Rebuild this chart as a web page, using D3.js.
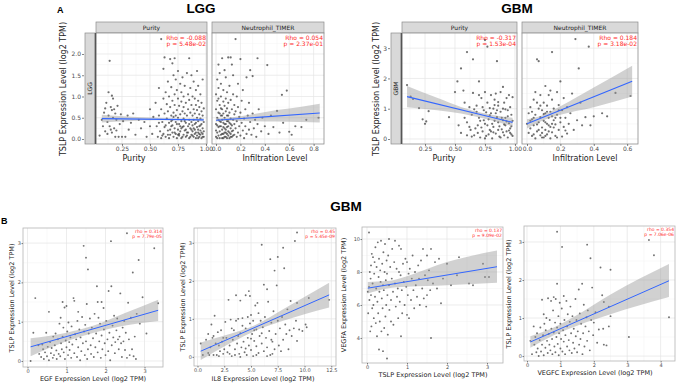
<!DOCTYPE html>
<html><head><meta charset="utf-8">
<script src="https://cdn.jsdelivr.net/npm/d3@7"></script>
<style>
body{margin:0;background:#fff;}
text{font-family:"DejaVu Sans",sans-serif;}
.ttl{font-family:"Liberation Sans",Arial,sans-serif;font-weight:700;}
</style></head><body><div id="chart"></div>
<script>
// ---- data ----
const lggPurity = [[0.05,0.08],[0.07,0.45],[0.08,0.3],[0.09,0.62],[0.1,0.72],[0.1,0.18],[0.11,0.85],[0.12,0.4],[0.12,0.12],[0.13,1.1],[0.13,0.55],[0.14,1.84],[0.14,0.3],[0.15,0.75],[0.15,0.22],[0.16,1.02],[0.16,0.68],[0.16,0.15],[0.17,0.95],[0.17,0.5],[0.18,0.7],[0.18,0.25],[0.19,0.6],[0.19,0.05],[0.2,0.45],[0.2,0.2],[0.21,0.78],[0.22,0.05],[0.23,0.35],[0.24,0.58],[0.25,0.05],[0.26,0.42],[0.28,0.05],[0.3,0.55],[0.31,0.22],[0.33,0.38],[0.35,0.6],[0.37,0.1],[0.4,0.45],[0.42,0.25],[0.45,0.4],[0.47,0.05],[0.5,0.3],[0.5,0.7],[0.52,0.12],[0.53,0.52],
[0.55,0.85],[0.56,0.3],[0.57,0.05],[0.58,1.2],[0.58,0.55],[0.59,0.18],[0.6,2.35],[0.6,0.7],[0.6,0.02],[0.61,0.4],[0.62,1.65],[0.62,0.95],[0.62,0.12],[0.63,1.92],[0.63,0.6],[0.63,0.28],[0.64,1.1],[0.64,0.05],[0.65,0.48],[0.65,0.82],[0.66,1.35],[0.66,0.2],[0.66,0.65],[0.67,0.02],[0.67,1.0],[0.67,0.38],[0.68,1.88],[0.68,0.75],[0.68,0.1],[0.69,0.55],[0.69,1.22],[0.69,0.3],[0.7,1.78],[0.7,0.9],[0.7,0.15],[0.7,0.45],[0.71,1.5],[0.71,0.62],[0.71,0.05],[0.72,1.9],[0.72,0.25],[0.72,1.05],[0.72,0.8],[0.73,0.4],[0.73,1.4],[0.73,0.12],[0.74,0.68],[0.74,0.02],[0.74,1.15],[0.75,0.5],[0.75,0.95],[0.75,0.22],[0.75,1.6],[0.76,0.35],[0.76,0.78],[0.76,0.08],[0.77,1.3],[0.77,0.58],[0.77,0.18],[0.78,0.88],[0.78,0.42],[0.78,0.02],[0.78,1.1],[0.79,0.65],[0.79,0.28],[0.79,1.45],[0.8,0.1],[0.8,0.75],[0.8,0.48],[0.8,1.0],[0.81,0.2],[0.81,0.6],[0.81,1.25],[0.82,0.05],[0.82,0.38],[0.82,0.85],[0.83,0.15],[0.83,0.55],[0.83,1.55],[0.84,0.3],[0.84,0.7],[0.84,1.05],[0.85,1.9],[0.85,0.02],[0.85,0.45],[0.85,0.92],[0.86,0.25],[0.86,0.62],[0.86,1.2],[0.87,0.1],[0.87,0.4],[0.87,0.8],[0.87,1.5],[0.88,0.18],[0.88,0.55],[0.88,1.0],[0.88,0.32],[0.89,0.05],[0.89,0.7],[0.89,1.35],[0.89,0.45],[0.9,0.22],[0.9,0.6],[0.9,0.95],[0.9,0.12],[0.91,0.38],[0.91,0.8],[0.91,1.15],[0.91,0.02],[0.92,1.6],[0.92,0.5],[0.92,0.28],[0.92,0.68],[0.93,0.15],[0.93,0.9],[0.93,0.42],[0.93,1.25],[0.94,0.05],[0.94,0.58],[0.94,0.3],[0.94,0.75],[0.95,0.2],[0.95,1.05],[0.95,0.48],[0.95,0.1],[0.96,0.35],[0.96,0.65],[0.96,0.85],[0.96,0.02],[0.97,0.25],[0.97,0.55],[0.97,1.4],[0.97,0.12],[0.98,0.4],[0.98,0.72],[0.98,0.18],[0.98,0.05],
[0.58,0.38],[0.61,0.08],[0.64,0.32],[0.66,0.1],[0.68,0.22],[0.7,0.32],[0.72,0.15],[0.73,0.55],[0.74,0.35],[0.76,0.12],[0.77,0.3],[0.79,0.05],[0.8,0.3],[0.82,0.22],[0.83,0.08],[0.84,0.15],[0.86,0.05],[0.87,0.22],[0.88,0.08],[0.9,0.35],[0.91,0.15],[0.92,0.08],[0.93,0.22],[0.94,0.12],[0.95,0.32],[0.96,0.15],[0.97,0.05],[0.85,0.35],[0.81,0.42],[0.78,0.25],[0.75,0.1],[0.89,0.25],[0.93,0.02],[0.71,0.52],[0.69,0.42]];
const lggNeutro = [[0.0,0.05],[0.0,0.35],[0.0,0.7],[0.0,1.05],[0.01,0.15],[0.01,0.5],[0.01,0.9],[0.01,1.4],[0.01,0.02],[0.02,0.28],[0.02,0.62],[0.02,1.2],[0.02,0.08],[0.02,1.75],[0.03,0.42],[0.03,0.8],[0.03,0.18],[0.03,1.55],[0.03,0.02],[0.04,0.55],[0.04,1.0],[0.04,0.3],[0.04,0.1],[0.04,1.3],[0.05,1.9],[0.05,0.7],[0.05,0.22],[0.05,0.45],[0.05,0.02],[0.06,0.88],[0.06,0.12],[0.06,0.38],[0.06,1.15],[0.06,0.6],[0.07,0.05],[0.07,0.5],[0.07,0.25],[0.07,1.62],[0.07,0.78],[0.08,0.95],[0.08,0.35],[0.08,0.15],[0.08,1.45],[0.08,0.65],[0.09,0.02],[0.09,0.42],[0.09,1.1],[0.09,0.28],[0.09,0.72],[0.1,1.92],[0.1,0.55],[0.1,0.18],[0.1,0.85],[0.1,0.08],[0.11,1.25],[0.11,0.38],[0.11,0.62],[0.11,0.02],[0.12,1.92],[0.12,0.25],[0.12,0.48],[0.12,0.92],[0.12,0.12],[0.13,1.75],[0.13,0.7],[0.13,0.32],[0.13,0.05],[0.14,1.05],[0.14,0.45],[0.14,0.2],[0.14,1.5],[0.15,0.58],[0.15,0.1],[0.15,0.8],[0.15,0.35],
[0.16,2.35],[0.16,0.25],[0.16,0.65],[0.17,1.0],[0.17,0.05],[0.17,0.42],[0.18,0.15],[0.18,0.75],[0.18,1.3],[0.19,0.52],[0.19,0.3],[0.2,1.88],[0.2,0.08],[0.2,0.62],[0.21,0.38],[0.21,0.9],[0.22,0.2],[0.22,1.15],[0.23,0.48],[0.23,0.02],[0.24,0.7],[0.24,0.3],[0.25,1.45],[0.25,0.12],[0.26,0.55],[0.27,0.22],[0.27,0.85],[0.28,1.62],[0.28,0.4],[0.29,0.1],[0.3,1.48],[0.3,0.6],[0.31,0.25],[0.32,0.45],[0.33,0.05],[0.34,1.9],[0.34,0.35],[0.35,0.7],
[0.37,0.18],[0.38,0.5],[0.4,0.3],[0.42,1.74],[0.43,0.12],[0.45,0.55],[0.47,0.28],[0.5,0.66],[0.52,0.15],[0.54,1.04],[0.55,0.38],[0.58,1.14],[0.6,0.17],[0.62,0.1],[0.65,0.3],[0.7,0.28],[0.74,0.45],[0.84,0.5],
[0.0,0.2],[0.01,0.32],[0.02,0.45],[0.03,0.6],[0.04,0.72],[0.05,0.12],[0.06,0.28],[0.07,0.15],[0.08,0.05],[0.09,0.55],[0.1,0.3],[0.11,0.15],[0.12,0.35],[0.13,0.18],[0.14,0.08],[0.02,0.95],[0.04,0.4],[0.06,0.02],[0.08,0.22],[0.1,0.42],[0.12,0.05],[0.03,0.3],[0.05,0.55],[0.07,0.35],[0.09,0.12]];
const gbmPurity = [[0.1,1.78],[0.13,1.4],[0.15,1.32],[0.2,1.02],[0.23,0.65],[0.25,0.5],[0.26,0.58],[0.28,0.92],[0.45,0.72],[0.5,1.55],[0.52,1.9],[0.55,2.33],[0.55,0.2],[0.57,1.6],[0.58,1.2],[0.6,2.87],[0.6,0.55],[0.62,1.05],[0.63,0.3],[0.64,0.8],[0.65,2.63],[0.65,1.52],[0.66,0.12],[0.68,1.1],[0.69,0.45],[0.7,1.9],[0.7,0.7],[0.71,0.05],[0.72,1.35],[0.73,0.25],[0.74,0.95],[0.75,3.27],[0.75,1.55],[0.75,0.5],[0.76,0.1],[0.77,3.05],[0.77,1.2],[0.78,0.65],[0.79,0.3],[0.8,1.45],[0.8,0.85],[0.81,0.02],[0.82,1.0],[0.82,0.4],[0.83,1.3],[0.84,0.18],[0.85,0.72],[0.85,2.57],[0.86,1.1],[0.86,0.55],[0.87,0.08],[0.88,1.55],[0.88,0.9],[0.89,0.32],[0.9,1.72],[0.9,0.62],[0.91,1.2],[0.91,0.12],[0.92,0.45],[0.92,0.98],[0.93,1.35],[0.93,0.25],[0.94,0.75],[0.94,0.05],[0.95,1.45],[0.95,0.52],[0.96,0.35],[0.96,1.05],[0.97,0.15],[0.97,0.8],[0.98,1.38],[0.98,0.6],[0.72,0.38],[0.68,0.9],[0.79,1.02],[0.84,1.5],[0.87,0.42],[0.9,0.22],[0.83,0.6],[0.78,0.15],[0.74,0.62],[0.62,0.4],[0.66,0.98],[0.92,0.7],[0.95,0.28],[0.88,0.05],[0.81,0.5],[0.76,0.88],[0.7,1.45],[0.64,0.08],[0.86,1.22],[0.93,0.58],[0.97,0.42],[0.8,0.25],[0.85,0.95],
[0.6,0.12],[0.67,0.35],[0.71,0.6],[0.73,1.05],[0.77,0.45],[0.79,0.78],[0.82,0.22],[0.84,0.85],[0.86,0.3],[0.89,0.7],[0.91,0.48],[0.94,0.95],[0.96,0.2],[0.98,0.1],[0.69,0.2],[0.75,0.02],[0.83,1.12],[0.9,1.0],[0.58,0.7],[0.53,0.45]];
const gbmNeutro = [[0.0,0.5],[0.01,0.2],[0.01,0.85],[0.02,1.05],[0.02,0.35],[0.03,0.1],[0.03,0.65],[0.04,1.3],[0.04,0.45],[0.05,0.02],[0.05,0.8],[0.05,1.55],[0.06,2.63],[0.06,0.25],[0.07,0.55],[0.07,1.0],[0.07,2.57],[0.08,0.12],[0.08,0.72],[0.08,1.45],[0.09,0.38],[0.09,0.95],[0.1,0.05],[0.1,0.6],[0.1,1.2],[0.11,0.3],[0.11,0.85],[0.11,1.75],[0.12,0.15],[0.12,0.5],[0.12,1.1],[0.13,0.7],[0.13,1.45],[0.14,0.02],[0.14,0.4],[0.14,0.9],[0.15,2.87],[0.15,0.22],[0.15,1.3],[0.16,0.62],[0.16,1.0],[0.17,0.1],[0.17,0.48],[0.18,1.55],[0.18,0.8],[0.19,0.3],[0.19,1.12],[0.2,0.55],[0.2,1.9],[0.21,0.08],[0.21,0.95],[0.22,0.4],[0.22,1.35],[0.23,0.7],[0.24,0.18],[0.24,1.05],[0.25,0.5],[0.26,0.85],[0.27,1.5],[0.28,0.3],[0.29,3.3],[0.3,0.62],[0.31,2.33],[0.32,1.2],[0.33,0.45],[0.35,0.72],[0.37,3.05],[0.38,0.45],[0.4,0.75],[0.45,0.85],[0.48,0.75],[0.53,1.52],[0.62,1.42],
[0.02,0.6],[0.03,0.9],[0.04,0.15],[0.06,1.2],[0.07,0.3],[0.09,0.05],[0.1,0.82],[0.11,0.55],[0.12,0.9],[0.13,0.25],[0.15,0.75],[0.16,0.38],[0.18,0.05],[0.2,0.7],[0.23,0.28],[0.06,0.48],[0.08,1.1],[0.14,1.6],[0.17,0.7],[0.19,0.95],[0.13,0.45],[0.04,0.7],[0.09,0.2],[0.11,0.1],[0.15,0.5]];
const egfPts = [[0.08,0.0],[0.15,0.72],[0.2,1.6],[0.28,0.4],[0.3,0.18],[0.35,0.1],[0.38,0.42],[0.4,0.3],[0.42,0.05],[0.45,0.22],[0.48,0.72],[0.5,0.12],[0.52,0.36],[0.55,1.25],[0.55,0.02],[0.58,0.48],[0.6,0.2],[0.62,0.33],[0.65,0.08],[0.66,0.62],[0.68,0.15],[0.7,0.4],[0.72,0.7],[0.74,0.27],[0.75,0.05],[0.78,0.55],[0.8,0.18],[0.82,0.95],[0.84,0.12],[0.85,1.1],[0.86,0.45],[0.88,0.3],[0.9,1.5],[0.9,0.62],[0.92,0.85],[0.93,0.22],[0.95,1.36],[0.96,0.05],[0.98,0.52],[1.0,1.4],[1.0,0.35],[1.02,0.75],[1.04,0.15],[1.05,0.98],[1.07,0.48],[1.08,0.28],[1.1,0.6],[1.12,0.08],[1.13,0.88],[1.15,0.42],[1.18,1.6],[1.2,1.53],[1.2,0.2],[1.22,0.68],[1.25,0.55],[1.27,0.1],[1.28,1.02],[1.3,1.25],[1.3,0.35],[1.33,0.8],[1.35,0.02],[1.36,0.6],[1.38,0.25],[1.4,1.12],[1.42,0.45],[1.44,2.93],[1.45,0.75],[1.47,0.15],[1.48,0.92],[1.5,2.63],[1.5,0.5],[1.52,1.45],[1.53,0.05],[1.55,2.33],[1.55,0.3],[1.57,0.7],[1.6,1.08],[1.62,0.4],[1.63,0.18],[1.65,0.85],[1.68,0.58],[1.7,0.1],[1.72,1.2],[1.74,0.35],[1.76,0.7],[1.78,1.9],[1.8,1.5],[1.8,0.22],[1.82,1.1],[1.84,0.5],[1.86,0.95],[1.88,0.08],[1.9,1.5],[1.9,0.65],[1.92,0.3],[1.95,1.35],[1.96,0.8],[1.98,0.45],[2.0,0.15],[2.02,1.02],[2.05,0.55],[2.07,0.25],[2.08,1.78],[2.1,0.72],[2.12,0.02],[2.14,3.05],[2.15,1.9],[2.16,0.4],[2.18,0.9],[2.2,0.6],[2.22,1.15],[2.24,0.2],[2.25,0.48],[2.28,0.78],[2.3,1.08],[2.32,0.55],[2.34,0.3],[2.36,0.62],[2.38,1.72],[2.4,0.45],[2.42,0.1],[2.44,0.85],[2.46,0.5],[2.48,1.02],[2.5,0.28],[2.52,0.72],[2.55,3.25],[2.55,0.08],[2.58,1.48],[2.6,0.55],[2.62,0.15],[2.65,1.1],[2.68,0.3],[2.7,2.25],[2.72,0.12],[2.75,0.62],[2.78,0.05],[2.8,1.2],[2.85,2.57],[2.88,0.95],[2.95,1.62],[3.05,0.7],[3.25,2.87],[3.35,1.47]];
const il8Pts = [[0.3,0.35],[0.5,0.05],[0.8,0.45],[1.0,0.1],[1.0,0.6],[1.1,0.05],[1.2,0.25],[1.3,0.85],[1.4,0.5],[1.5,0.55],[1.6,1.08],[1.7,0.35],[1.8,0.05],[1.9,0.65],[2.0,0.3],[2.1,0.15],[2.2,0.7],[2.3,0.4],[2.4,0.08],[2.5,0.2],[2.6,0.92],[2.7,0.5],[2.8,0.12],[2.9,1.5],[3.0,0.3],[3.1,0.98],[3.2,0.02],[3.3,0.45],[3.4,0.7],[3.5,0.2],[3.6,1.62],[3.6,0.95],[3.7,0.35],[3.8,0.55],[3.9,0.08],[4.0,1.48],[4.0,0.62],[4.1,0.25],[4.2,1.02],[4.3,0.4],[4.4,0.12],[4.5,1.62],[4.5,0.75],[4.6,0.05],[4.7,0.5],[4.8,1.73],[4.8,0.3],[4.9,1.6],[4.9,0.88],[5.0,0.18],[5.0,1.1],[5.1,0.6],[5.2,0.02],[5.3,0.42],[5.4,1.35],[5.5,0.72],[5.5,0.28],[5.6,1.42],[5.7,0.1],[5.8,0.55],[5.9,0.95],[6.0,2.95],[6.0,0.35],[6.1,0.78],[6.2,1.9],[6.2,0.15],[6.3,1.05],[6.4,0.5],[6.5,1.78],[6.5,0.25],[6.6,1.45],[6.7,0.68],[6.8,2.57],[6.8,0.05],[6.9,0.9],[7.0,0.4],[7.1,1.2],[7.2,2.27],[7.2,0.2],[7.3,0.6],[7.4,1.88],[7.5,2.63],[7.5,0.95],[7.6,0.3],[7.7,0.75],[7.8,0.15],[7.9,1.05],[8.0,2.87],[8.0,0.45],[8.1,2.33],[8.2,0.85],[8.3,0.6],[8.4,1.25],[8.5,0.2],[8.6,0.7],[8.7,1.47],[8.8,0.55],[9.0,0.75],[9.1,3.05],[9.2,0.95],[9.3,3.27],[9.3,1.42],[9.3,0.42],[9.5,0.72],[9.8,0.68],[10.1,0.85],[10.2,0.78],[10.4,1.55],[12.3,1.5],
[1.5,0.05],[2.0,0.02],[3.0,0.08],[3.5,0.05],[4.0,0.0],[4.5,0.22],[5.0,0.48],[5.5,0.05],[6.0,0.62],[6.5,0.02],[7.0,0.08],[3.2,0.75],[4.2,0.82],[5.2,0.95],[2.4,0.5],[4.7,1.05],[5.7,1.15],[3.8,1.0],[6.9,0.45],[5.3,0.7]];
const vegfaPts = [[0.02,6.8],[0.03,5.5],[0.05,10.4],[0.05,7.1],[0.06,6.3],[0.07,8.0],[0.08,4.4],[0.09,7.6],[0.1,8.4],[0.1,6.6],[0.11,4.7],[0.12,9.1],[0.13,5.8],[0.14,7.3],[0.15,8.9],[0.16,6.0],[0.17,5.2],[0.18,7.9],[0.19,8.6],[0.2,6.5],[0.21,9.5],[0.22,4.9],[0.23,7.0],[0.24,8.3],[0.25,4.1],[0.26,6.2],[0.27,9.8],[0.28,5.5],[0.29,7.7],[0.3,3.3],[0.3,8.8],[0.31,6.8],[0.32,5.0],[0.33,8.1],[0.34,7.4],[0.35,9.9],[0.36,4.4],[0.37,6.4],[0.38,8.5],[0.39,5.8],[0.4,3.2],[0.4,7.2],[0.41,9.2],[0.42,6.9],[0.43,4.6],[0.44,8.0],[0.45,9.7],[0.46,5.3],[0.47,7.5],[0.48,6.0],[0.49,8.7],[0.5,2.75],[0.5,7.9],[0.51,6.6],[0.52,4.2],[0.53,9.0],[0.55,10.0],[0.55,7.2],[0.56,5.7],[0.58,8.3],[0.6,6.3],[0.6,5.0],[0.62,7.6],[0.63,9.4],[0.65,6.8],[0.66,4.8],[0.68,8.6],[0.7,9.9],[0.7,7.3],[0.72,5.9],[0.74,8.2],[0.75,6.5],[0.77,7.0],[0.78,5.2],[0.8,9.6],[0.8,8.0],[0.82,6.2],[0.84,7.8],[0.85,4.1],[0.85,9.4],[0.87,6.9],[0.88,5.5],[0.9,8.5],[0.92,7.4],[0.94,6.0],[0.96,8.8],[0.98,7.1],[1.0,5.4],[1.0,8.6],[1.02,6.6],[1.04,7.9],[1.05,5.2],[1.07,8.2],[1.1,6.3],[1.12,7.6],[1.14,9.0],[1.16,6.9],[1.18,5.8],[1.2,8.0],[1.22,7.2],[1.25,6.5],[1.28,8.4],[1.3,7.6],[1.32,6.0],[1.35,8.7],[1.38,7.0],[1.4,9.4],[1.42,6.4],[1.45,7.8],[1.48,5.9],[1.5,9.0],[1.5,6.6],[1.52,7.5],[1.55,8.1],[1.58,6.9],[1.6,9.4],[1.6,4.0],[1.65,7.3],[1.7,8.6],[1.75,7.0],[1.8,8.8],[1.85,6.1],[1.9,7.6],[2.0,8.5],[2.1,7.2],[2.25,7.8],[2.3,8.9],[2.55,7.3],[2.65,7.2],[2.9,8.5],[2.95,7.7],[3.05,7.7]];
const vegfcPts = [[0.1,0.4],[0.15,0.05],[0.2,0.78],[0.22,0.3],[0.25,0.5],[0.28,0.1],[0.3,0.6],[0.32,0.2],[0.35,0.0],[0.38,0.42],[0.4,0.75],[0.42,0.12],[0.45,1.48],[0.45,0.3],[0.48,0.55],[0.5,0.02],[0.5,1.1],[0.52,0.85],[0.55,0.22],[0.56,0.68],[0.58,1.0],[0.6,0.4],[0.62,0.08],[0.63,1.52],[0.65,0.58],[0.67,0.3],[0.68,0.95],[0.7,0.15],[0.72,1.45],[0.73,0.72],[0.75,0.45],[0.76,0.05],[0.78,1.2],[0.8,0.62],[0.8,1.55],[0.82,0.25],[0.84,0.88],[0.85,0.1],[0.86,1.5],[0.88,0.5],[0.9,3.27],[0.9,1.9],[0.9,0.75],[0.92,0.32],[0.94,1.05],[0.95,0.02],[0.96,0.6],[0.98,1.4],[1.0,0.2],[1.0,0.85],[1.02,0.45],[1.04,1.25],[1.05,2.87],[1.06,0.12],[1.08,0.68],[1.1,1.58],[1.1,0.38],[1.12,0.95],[1.14,0.05],[1.15,0.55],[1.18,1.45],[1.2,0.25],[1.2,0.78],[1.22,1.1],[1.25,0.42],[1.27,0.15],[1.28,0.9],[1.3,1.3],[1.32,0.6],[1.34,0.08],[1.36,1.05],[1.38,0.35],[1.4,0.72],[1.42,0.2],[1.45,1.5],[1.46,0.52],[1.48,0.95],[1.5,0.1],[1.52,0.65],[1.55,1.75],[1.56,0.3],[1.58,1.12],[1.6,0.45],[1.62,0.85],[1.65,1.9],[1.66,0.05],[1.68,0.6],[1.7,1.35],[1.72,0.25],[1.75,0.78],[1.78,1.02],[1.8,2.93],[1.8,0.4],[1.82,1.2],[1.85,0.65],[1.88,0.15],[1.9,2.57],[1.92,0.95],[1.95,1.8],[1.98,0.55],[2.0,0.88],[2.05,1.15],[2.1,0.35],[2.15,0.7],[2.2,2.33],[2.25,1.6],[2.28,0.72],[2.3,1.42],[2.3,0.3],[2.38,0.28],[2.45,1.3],[2.45,0.78],[2.5,2.27],[2.5,1.05],[3.05,0.5],[3.65,3.05],[3.8,2.65],[4.25,1.02]];

// fitted lines [x, y] and confidence bands [x, lower, upper]
const lggPurityFit = [[0.07,0.48],[0.98,0.45]];
const lggPurityBand = [[0.07,0.39,0.57],[0.3,0.42,0.53],[0.55,0.44,0.50],[0.75,0.44,0.48],[0.98,0.41,0.49]];
const lggNeutroFit = [[0.0,0.44],[0.85,0.61]];
const lggNeutroBand = [[0.0,0.41,0.48],[0.1,0.43,0.50],[0.3,0.42,0.58],[0.5,0.41,0.68],[0.7,0.40,0.76],[0.85,0.39,0.83]];
const gbmPurityFit = [[0.1,1.40],[0.98,0.55]];
const gbmPurityBand = [[0.1,1.05,1.75],[0.35,0.95,1.36],[0.55,0.84,1.06],[0.75,0.67,0.84],[0.98,0.42,0.70]];
const gbmNeutroFit = [[0.0,0.50],[0.63,1.91]];
const gbmNeutroBand = [[0.0,0.35,0.65],[0.1,0.62,0.80],[0.2,0.80,1.08],[0.4,1.05,1.70],[0.63,1.40,2.42]];
const egfFit = [[0.08,0.36],[3.35,1.29]];
const egfBand = [[0.08,0.12,0.58],[1.0,0.50,0.72],[1.7,0.72,0.90],[2.5,0.90,1.22],[3.35,1.02,1.56]];
const il8Fit = [[0.3,0.15],[12.3,1.63]];
const il8Band = [[0.3,-0.08,0.38],[3,0.35,0.60],[5.5,0.70,0.85],[8,0.95,1.25],[12.3,1.30,1.95]];
const vegfaFit = [[0.02,7.02],[3.25,8.32]];
const vegfaBand = [[0.02,6.70,7.40],[0.5,7.0,7.45],[1.0,7.10,7.75],[2.0,7.2,8.6],[3.25,7.35,9.3]];
const vegfcFit = [[0.1,0.37],[4.25,1.98]];
const vegfcBand = [[0.1,0.22,0.52],[0.8,0.55,0.75],[1.5,0.80,1.08],[2.5,1.10,1.62],[4.25,1.55,2.42]];

// tick labels
const purityTicks = [0.25, 0.5, 0.75, 1.0];
const lggInfTicks = [0, 0.2, 0.4, 0.6, 0.8];
const gbmInfTicks = [0, 0.2, 0.4, 0.6];
const lggYTicks = [0, 0.5, 1, 1.5, 2];
const gbmYTicks = [0, 1, 2, 3];
const tslpTicks = [0, 1, 2, 3];
const il8Ticks = [0, 2.5, 5, 7.5, 10, 12.5];
const vegfaTicks = [4, 6, 8, 10];
const vegfcTicks = [0, 1, 2, 3, 4];

const svg = d3.select("#chart").append("svg")
    .attr("width", 677).attr("height", 383)
    .style("background", "#fff");

function minors(t, dom) {
    const step = t[1] - t[0];
    const out = [];
    for (let v = t[0] - step / 2; v <= dom[1]; v += step) {
        if (v >= dom[0]) out.push(v);
    }
    return out;
}

function panel(o) {
    const x = d3.scaleLinear().domain(o.xDom).range([o.x0, o.x1]);
    const y = d3.scaleLinear().domain(o.yDom).range([o.y1, o.y0]);
    const g = svg.append("g");

    g.append("rect").attr("x", o.x0).attr("y", o.y0)
        .attr("width", o.x1 - o.x0).attr("height", o.y1 - o.y0).attr("fill", "#fff");

    // grid
    g.selectAll(".mx").data(minors(o.xTicks, o.xDom)).enter().append("line")
        .attr("x1", d => x(d)).attr("x2", d => x(d)).attr("y1", o.y0).attr("y2", o.y1)
        .attr("stroke", "#f3f3f3").attr("stroke-width", 0.5);
    g.selectAll(".my").data(minors(o.yTicks, o.yDom)).enter().append("line")
        .attr("y1", d => y(d)).attr("y2", d => y(d)).attr("x1", o.x0).attr("x2", o.x1)
        .attr("stroke", "#f3f3f3").attr("stroke-width", 0.5);
    g.selectAll(".gx").data(o.xTicks).enter().append("line")
        .attr("x1", d => x(d)).attr("x2", d => x(d)).attr("y1", o.y0).attr("y2", o.y1)
        .attr("stroke", "#e4e4e4").attr("stroke-width", 0.7);
    g.selectAll(".gy").data(o.yTicks).enter().append("line")
        .attr("y1", d => y(d)).attr("y2", d => y(d)).attr("x1", o.x0).attr("x2", o.x1)
        .attr("stroke", "#e4e4e4").attr("stroke-width", 0.7);

    // points
    g.selectAll(".pt").data(o.pts).enter().append("circle")
        .attr("cx", d => x(d[0])).attr("cy", d => y(d[1]))
        .attr("r", o.r).attr("fill", "#333").attr("fill-opacity", 0.7);

    // confidence band + fit
    g.append("path").datum(o.band)
        .attr("d", d3.area().curve(d3.curveMonotoneX)
            .x(d => x(d[0])).y0(d => y(d[1])).y1(d => y(d[2])))
        .attr("fill", "#999").attr("fill-opacity", 0.45);
    g.append("path").datum(o.fit)
        .attr("d", d3.line().x(d => x(d[0])).y(d => y(d[1])))
        .attr("stroke", "#3366ff").attr("stroke-width", o.lw).attr("fill", "none");

    g.append("rect").attr("x", o.x0).attr("y", o.y0)
        .attr("width", o.x1 - o.x0).attr("height", o.y1 - o.y0)
        .attr("fill", "none").attr("stroke", o.border).attr("stroke-width", 0.8);

    // stats
    g.selectAll(".st").data(o.stats).enter().append("text")
        .attr("x", o.x1 - 1).attr("y", (d, i) => o.y0 + o.statFs + 0.5 + i * (o.statFs + 0.3))
        .attr("text-anchor", "end").attr("fill", "#ff2a2a")
        .style("font-size", o.statFs + "px").text(d => d);

    // x axis
    const ax = g.append("g").attr("transform", `translate(0,${o.y1})`)
        .call(d3.axisBottom(x).tickValues(o.xTicks).tickFormat(o.xFmt).tickSize(o.tk).tickPadding(o.pad));
    ax.select(".domain").remove();
    ax.selectAll("line").attr("stroke", "#333").attr("stroke-width", 0.6);
    ax.selectAll("text").attr("fill", "#4d4d4d").style("font-size", o.tickFs + "px")
        .style("font-family", "DejaVu Sans");

    if (o.yAxisX !== undefined) {
        const ay = g.append("g").attr("transform", `translate(${o.yAxisX},0)`)
            .call(d3.axisLeft(y).tickValues(o.yTicks).tickFormat(o.yFmt).tickSize(o.tk).tickPadding(o.pad));
        ay.select(".domain").remove();
        ay.selectAll("line").attr("stroke", "#333").attr("stroke-width", 0.6);
        ay.selectAll("text").attr("fill", "#4d4d4d").style("font-size", o.tickFs + "px")
            .style("font-family", "DejaVu Sans");
    }
    if (o.xTitle) {
        svg.append("text").attr("x", o.xTitle[1]).attr("y", o.xTitle[2])
            .attr("text-anchor", "middle").attr("fill", "#222")
            .style("font-size", o.titleFs + "px").text(o.xTitle[0]);
    }
    if (o.yTitle) {
        svg.append("text")
            .attr("transform", `translate(${o.yTitle[1]},${o.yTitle[2]}) rotate(-90)`)
            .attr("text-anchor", "middle").attr("fill", "#222")
            .style("font-size", o.titleFs + "px").text(o.yTitle[0]);
    }
}

function strip(x0, y0, w, h, label, vertical) {
    svg.append("rect").attr("x", x0).attr("y", y0).attr("width", w).attr("height", h)
        .attr("fill", "#d9d9d9").attr("stroke", "#8c8c8c").attr("stroke-width", 0.7);
    const t = svg.append("text").attr("text-anchor", "middle").attr("fill", "#1a1a1a")
        .style("font-size", "6px").text(label);
    if (vertical) t.attr("transform", `translate(${x0 + w / 2 + 2},${y0 + h / 2}) rotate(-90)`);
    else t.attr("x", x0 + w / 2).attr("y", y0 + h / 2 + 2);
}

const f2 = d3.format(".2f"), f1 = d3.format(".1f"), f0 = d3.format("d");
const topCfg = { r: 1.1, lw: 1.1, border: "#8c8c8c", statFs: 6, tickFs: 6, titleFs: 8, tk: 2, pad: 1, y0: 33, y1: 144 };
const botCfg = { r: 0.95, lw: 1, border: "#b5b5b5", statFs: 4.5, tickFs: 5, titleFs: 6.5, tk: 1.5, pad: 0.5 };
const ytitle = "TSLP Expression Level (log2 TPM)";

// ---- A: LGG ----
strip(96, 22, 111, 11, "Purity");
strip(212, 22, 112, 11, "Neutrophil_TIMER");
strip(85, 33, 10, 111, "LGG", true);
panel({ ...topCfg, x0: 96, x1: 207, xDom: [0.018, 1.009], yDom: [-0.118, 2.494],
    pts: lggPurity, fit: lggPurityFit, band: lggPurityBand, stats: ["Rho = -0.088", "p = 5.48e-02"],
    xTicks: purityTicks, xFmt: f2, yTicks: lggYTicks, yFmt: f1, yAxisX: 84,
    xTitle: ["Purity", 134, 161], yTitle: [ytitle, 66, 89] });
panel({ ...topCfg, x0: 212, x1: 324, xDom: [-0.033, 0.885], yDom: [-0.118, 2.494],
    pts: lggNeutro, fit: lggNeutroFit, band: lggNeutroBand, stats: ["Rho = 0.054", "p = 2.37e-01"],
    xTicks: lggInfTicks, xFmt: f1, yTicks: lggYTicks, xTitle: ["Infiltration Level", 275, 161] });
svg.append("line").attr("x1", 95.5).attr("x2", 95.5).attr("y1", 33).attr("y2", 144)
    .attr("stroke", "#555").attr("stroke-width", 1.4);

// ---- A: GBM ----
strip(402, 22, 115, 11, "Purity");
strip(522, 22, 116, 11, "Neutrophil_TIMER");
strip(391, 33, 10, 111, "GBM", true);
panel({ ...topCfg, x0: 402, x1: 517, xDom: [0.058, 1.017], yDom: [-0.165, 3.5],
    pts: gbmPurity, fit: gbmPurityFit, band: gbmPurityBand, stats: ["Rho = -0.317", "p = 1.53e-04"],
    xTicks: purityTicks, xFmt: f2, yTicks: gbmYTicks, yFmt: f0, yAxisX: 390,
    xTitle: ["Purity", 444, 161], yTitle: [ytitle, 379, 89] });
panel({ ...topCfg, x0: 522, x1: 638, xDom: [-0.03, 0.665], yDom: [-0.165, 3.5],
    pts: gbmNeutro, fit: gbmNeutroFit, band: gbmNeutroBand, stats: ["Rho = 0.184", "p = 3.18e-02"],
    xTicks: gbmInfTicks, xFmt: f1, yTicks: gbmYTicks, xTitle: ["Infiltration Level", 585, 161] });
svg.append("line").attr("x1", 401.5).attr("x2", 401.5).attr("y1", 33).attr("y2", 144)
    .attr("stroke", "#555").attr("stroke-width", 1.4);

// ---- B: GBM correlations ----
panel({ ...botCfg, x0: 23, x1: 163, y0: 228, y1: 367, xDom: [-0.115, 3.474], yDom: [-0.153, 3.384],
    pts: egfPts, fit: egfFit, band: egfBand, stats: ["rho = 0.314", "p = 7.79e-05"],
    xTicks: tslpTicks, xFmt: f0, yTicks: tslpTicks, yFmt: f0, yAxisX: 23,
    xTitle: ["EGF Expression Level (log2 TPM)", 93, 381], yTitle: [ytitle, 14, 298] });
panel({ ...botCfg, x0: 194, x1: 336, y0: 228, y1: 366, xDom: [-0.327, 12.94], yDom: [-0.24, 3.39],
    pts: il8Pts, fit: il8Fit, band: il8Band, stats: ["rho = 0.45", "p = 5.45e-09"],
    xTicks: il8Ticks, xFmt: f1, yTicks: tslpTicks, yFmt: f0, yAxisX: 194,
    xTitle: ["IL8 Expression Level (log2 TPM)", 263, 381], yTitle: [ytitle, 185, 297] });
panel({ ...botCfg, x0: 362, x1: 503, y0: 227, y1: 363, xDom: [-0.125, 3.4], yDom: [2.48, 10.73],
    pts: vegfaPts, fit: vegfaFit, band: vegfaBand, stats: ["rho = 0.137", "p = 9.09e-02"],
    xTicks: tslpTicks, xFmt: f0, yTicks: vegfaTicks, yFmt: f0, yAxisX: 362,
    xTitle: ["TSLP Expression Level (log2 TPM)", 433, 377], yTitle: ["VEGFA Expression Level (log2 TPM)", 346, 295] });
panel({ ...botCfg, x0: 524, x1: 675, y0: 226, y1: 361, xDom: [-0.09, 4.43], yDom: [-0.13, 3.42],
    pts: vegfcPts, fit: vegfcFit, band: vegfcBand, stats: ["rho = 0.354", "p = 7.06e-06"],
    xTicks: vegfcTicks, xFmt: f0, yTicks: tslpTicks, yFmt: f0, yAxisX: 524,
    xTitle: ["VEGFC Expression Level (log2 TPM)", 595, 375], yTitle: [ytitle, 511, 294] });

// titles and panel letters
svg.append("text").attr("class", "ttl").attr("x", 201).attr("y", 13).attr("text-anchor", "middle")
    .style("font-size", "13.5px").text("LGG");
svg.append("text").attr("class", "ttl").attr("x", 517).attr("y", 13).attr("text-anchor", "middle")
    .style("font-size", "13.5px").text("GBM");
svg.append("text").attr("class", "ttl").attr("x", 346).attr("y", 211).attr("text-anchor", "middle")
    .style("font-size", "13.5px").text("GBM");
svg.append("text").attr("class", "ttl").attr("x", 57).attr("y", 13).style("font-size", "9px").text("A");
svg.append("text").attr("class", "ttl").attr("x", 1).attr("y", 224).style("font-size", "9px").text("B");
</script></body></html>
